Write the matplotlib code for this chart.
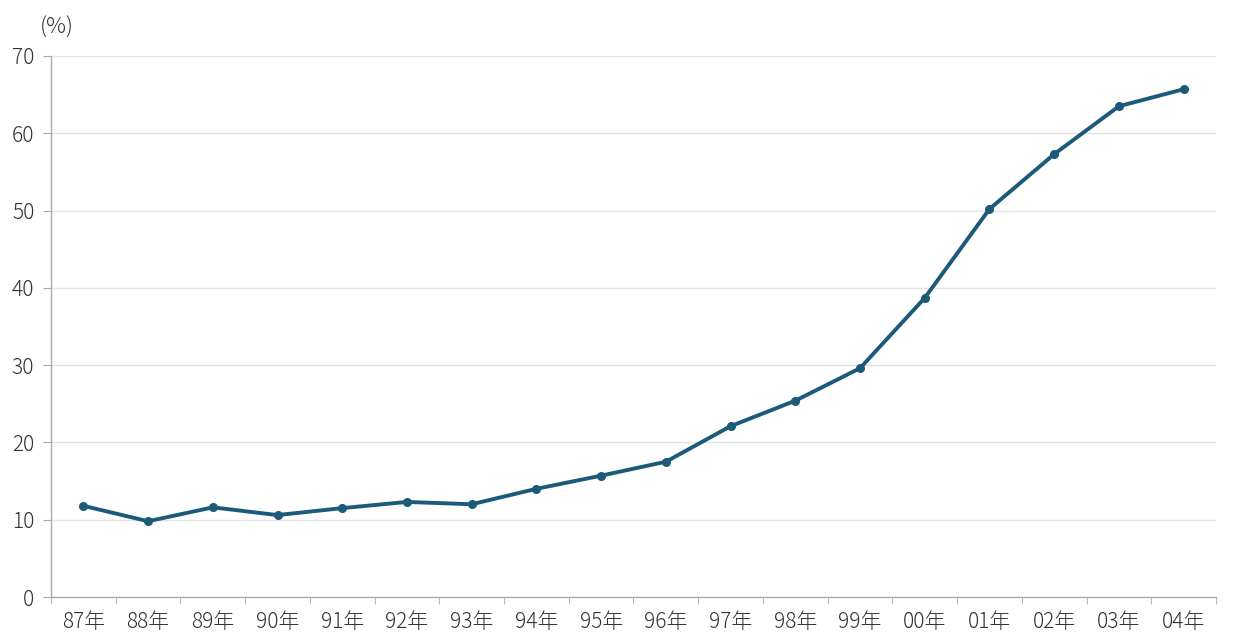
import matplotlib
matplotlib.use("Agg")
import matplotlib.pyplot as plt
import numpy as np

plt.rcParams['font.family'] = ['Noto Sans CJK JP', 'DejaVu Sans']

years = ["87年", "88年", "89年", "90年", "91年", "92年", "93年", "94年", "95年",
         "96年", "97年", "98年", "99年", "00年", "01年", "02年", "03年", "04年"]
values = [11.8, 9.8, 11.6, 10.6, 11.5, 12.3, 12.0, 14.0, 15.7,
          17.5, 22.1, 25.4, 29.6, 38.7, 50.2, 57.3, 63.5, 65.7]
yticks = [0, 10, 20, 30, 40, 50, 60, 70]

fig = plt.figure(figsize=(12.36, 6.42), dpi=100)
ax = fig.add_axes([51/1236, 1-597/642, (1216-51)/1236, (597-56)/642])

x = np.arange(len(years))
ax.plot(x, values, color='#1c5a7a', linewidth=2.8, marker='o', markersize=5.5, zorder=3)

ax.set_xlim(-0.5, len(years)-0.5)
ax.set_ylim(0, 70)
ax.set_yticks(yticks)
ax.set_yticklabels([str(v) for v in yticks], fontweight='light')
ax.yaxis.grid(True, color='#e3e3e3', linewidth=1)
ax.set_axisbelow(True)

ax.set_xticks(x)
ax.set_xticklabels(years, fontweight='light')
ax.set_xticks(np.arange(-0.5, len(years)), minor=True)
ax.tick_params(axis='x', which='major', length=0, pad=10, labelsize=15, colors='#333333')
ax.tick_params(axis='x', which='minor', length=5, color='#aaaaaa', direction='out')
ax.tick_params(axis='y', length=6, color='#aaaaaa', labelsize=15, labelcolor='#333333', pad=6)

for s in ['top', 'right']:
    ax.spines[s].set_visible(False)
for s in ['left', 'bottom']:
    ax.spines[s].set_color('#aaaaaa')
    ax.spines[s].set_linewidth(1)

fig.text(57/1236, 1-28/642, "(%)", ha='center', va='center', fontsize=16,
         fontweight='light', color='#333333')

fig.savefig("out.png", dpi=100, facecolor='white')
